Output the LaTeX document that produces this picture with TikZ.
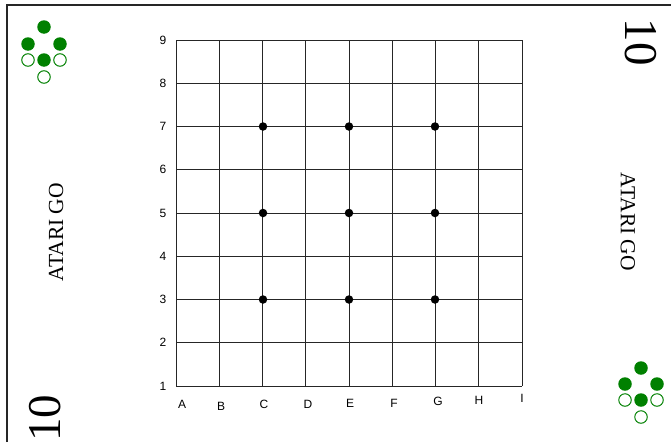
\documentclass[tikz,border=0pt]{standalone}
\usepackage{fontspec}
\setmainfont{Liberation Serif}
\newfontfamily\arialf{Liberation Sans}
\definecolor{stonegreen}{HTML}{008000}
\begin{document}
\begin{tikzpicture}[x=1pt,y=-1pt,
  gridline/.style={draw=black!85, line width=1pt},
  axislabel/.style={font=\arialf\fontsize{12}{13}\selectfont, inner sep=0pt},
  title/.style={font=\fontsize{21.5}{22}\selectfont, inner sep=0pt},
  bignum/.style={font=\fontsize{47}{48}\selectfont, inner sep=0pt},
  hoshi/.style={circle, fill=black, inner sep=0pt, minimum size=8.5pt},
  gfill/.style={circle, fill=stonegreen, inner sep=0pt, minimum size=13.5pt},
  gopen/.style={circle, draw=stonegreen, line width=1pt, fill=white, inner sep=0pt, minimum size=12.5pt}]
\useasboundingbox (0,0) rectangle (671,442);
% border (top and left visible)
\coordinate (bl) at (7,442);
\coordinate (tl) at (7,5);
\coordinate (tr) at (671,5);
\draw[line width=2pt, black!85] (bl) -- (tl) -- (tr);
% grid
\foreach \i in {0,...,8} {
  \draw[gridline] (176+\i*43.25,40) -- (176+\i*43.25,386);
  \draw[gridline] (176,40+\i*43.25) -- (522,40+\i*43.25);
}
% row numbers
\foreach \n in {1,...,9} {
  \node[axislabel] (r\n) at (163,{386-(\n-1)*43.25}) {\n};
}
% column letters
\node[axislabel] (cA) at (182,404) {A};
\node[axislabel] (cB) at (221,406) {B};
\node[axislabel] (cC) at (264,404) {C};
\node[axislabel] (cD) at (308,404) {D};
\node[axislabel] (cE) at (350,403) {E};
\node[axislabel] (cF) at (394,403) {F};
\node[axislabel] (cG) at (438,401) {G};
\node[axislabel] (cH) at (479,400) {H};
\node[axislabel] (cI) at (522,398) {I};
% star points
\foreach \cx in {263,349,435} {
  \foreach \cy in {126.5,213,299.5} {
    \node[hoshi] at (\cx,\cy) {};
  }
}
% titles
\node[title, rotate=90] (t1) at (56,232) {ATARI GO};
\node[title, rotate=-90] (t2) at (628,222) {ATARI GO};
\node[bignum, rotate=-90] (n1) at (641,42) {10};
\node[bignum, rotate=90] (n2) at (45,418) {10};
% green stones top-left
\node[gfill] (a1) at (44,27) {};
\node[gfill] (a2) at (28,44) {};
\node[gfill] (a3) at (60,44) {};
\node[gopen] (a5) at (28,60) {};
\node[gopen] (a6) at (60,60) {};
\node[gfill] (a4) at (44,60) {};
\node[gopen] (a7) at (44,77) {};
% green stones bottom-right
\node[gfill] (b1) at (641,368) {};
\node[gfill] (b2) at (625,384) {};
\node[gfill] (b3) at (657,384) {};
\node[gopen] (b5) at (625,400) {};
\node[gopen] (b6) at (657,400) {};
\node[gfill] (b4) at (641,400) {};
\node[gopen] (b7) at (641,417) {};
\end{tikzpicture}
\end{document}
